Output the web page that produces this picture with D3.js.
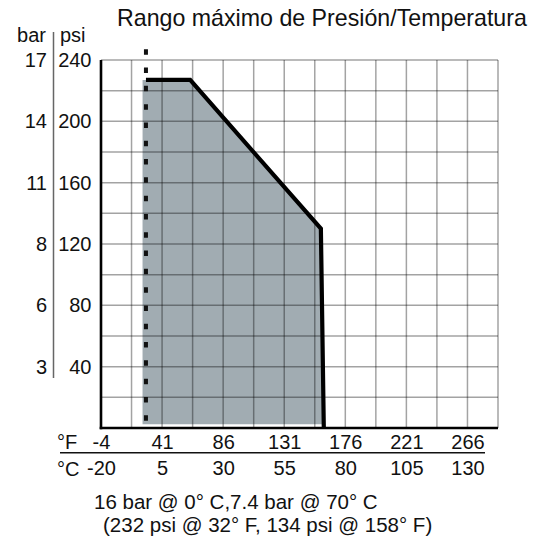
<!DOCTYPE html>
<html>
<head>
<meta charset="utf-8">
<script src="https://cdn.jsdelivr.net/npm/d3@7"></script>
<style>
  html, body { margin: 0; padding: 0; background: #fff; }
  svg text { font-family: "Liberation Sans", Arial, Helvetica, sans-serif; fill: #111; }
</style>
</head>
<body>
<svg id="chart" width="548" height="540"></svg>
<script>
// Operating envelope, temperature in °C, pressure in psi
const envelopeFill = [[-3.0, 227], [16.5, 227], [70, 130], [71.2, 2.5]];
const envelopeEdge = [[-1.6, 227], [16.5, 227], [70, 130], [71.2, 0]];
// Minimum-temperature reference line (°C, psi span)
const minTempLine = [[-1.6, 247], [-1.6, 3]];

// Tick labels
const psiTicks = [40, 80, 120, 160, 200, 240];
const barLabels = ["3", "6", "8", "11", "14", "17"];
const celsiusTicks = [-20, 5, 30, 55, 80, 105, 130];
const fahrenheitLabels = ["-4", "41", "86", "131", "176", "221", "266"];

// Grid steps
const gridTemps = d3.range(-20, 142.6, 12.5);
const gridPsi = d3.range(0, 240.1, 20);

const svg = d3.select("#chart");
const FONT = 20;

const x = d3.scaleLinear().domain([-20, 142.5]).range([101, 498]);
const y = d3.scaleLinear().domain([0, 240]).range([428, 60]);

// Title
svg.append("text")
  .attr("x", 117).attr("y", 26)
  .style("font-size", "23.2px")
  .text("Rango máximo de Presión/Temperatura");

// Filled envelope
svg.append("path")
  .datum(envelopeFill)
  .attr("fill", "#a1acb2")
  .attr("d", d3.area().x(d => x(d[0])).y1(d => y(d[1])).y0(y(2.5)));

// Grid
const grid = svg.append("g").attr("stroke", "#000").attr("stroke-opacity", 0.36).attr("stroke-width", 1.5);
grid.selectAll("line.v").data(gridTemps).join("line")
  .attr("x1", d => x(d)).attr("x2", d => x(d))
  .attr("y1", y(0)).attr("y2", y(240));
grid.selectAll("line.h").data(gridPsi).join("line")
  .attr("x1", x(-20)).attr("x2", x(142.5))
  .attr("y1", d => y(d)).attr("y2", d => y(d));

// Dotted minimum-temperature line
svg.append("path")
  .datum(minTempLine)
  .attr("fill", "none").attr("stroke", "#111").attr("stroke-width", 4)
  .attr("stroke-dasharray", "5.5,12.8")
  .attr("d", d3.line().x(d => x(d[0])).y(d => y(d[1])));

// Envelope outline
svg.append("path")
  .datum(envelopeEdge)
  .attr("fill", "none").attr("stroke", "#000").attr("stroke-width", 4.2)
  .attr("stroke-linejoin", "miter")
  .attr("d", d3.line().x(d => x(d[0])).y(d => y(d[1])));

// Main axes lines
svg.append("line").attr("x1", x(-20)).attr("x2", x(-20)).attr("y1", y(240)).attr("y2", y(0) + 1.2)
  .attr("stroke", "#000").attr("stroke-width", 2.6);
svg.append("line").attr("x1", x(-20) - 1.3).attr("x2", x(142.5)).attr("y1", y(0)).attr("y2", y(0))
  .attr("stroke", "#000").attr("stroke-width", 2.6);

// psi axis
const psiAxis = svg.append("g")
  .attr("transform", `translate(${x(-20)},0)`)
  .call(d3.axisLeft(y).tickValues(psiTicks).tickSize(0).tickPadding(9.5));
// bar axis
const barAxis = svg.append("g")
  .attr("transform", "translate(53.5,0)")
  .call(d3.axisLeft(y).tickValues(psiTicks).tickSize(0).tickPadding(6.5)
    .tickFormat((d, i) => barLabels[i]));
[psiAxis, barAxis].forEach(g => {
  g.select(".domain").remove();
  g.selectAll("text").style("font-size", FONT + "px").attr("fill", "#111");
});

// Separator between bar and psi scales
svg.append("line").attr("x1", 53.5).attr("x2", 53.5).attr("y1", 32).attr("y2", 378)
  .attr("stroke", "#666").attr("stroke-width", 1.5);
svg.append("text").attr("x", 46).attr("y", 42).attr("text-anchor", "end")
  .style("font-size", FONT + "px").text("bar");
svg.append("text").attr("x", 60).attr("y", 42)
  .style("font-size", FONT + "px").text("psi");

// Fahrenheit axis
const fAxis = svg.append("g")
  .attr("transform", `translate(0,${y(0)})`)
  .call(d3.axisBottom(x).tickValues(celsiusTicks).tickSize(0).tickPadding(6.8)
    .tickFormat((d, i) => fahrenheitLabels[i]));
// Celsius axis
const cAxis = svg.append("g")
  .attr("transform", `translate(0,${y(0)})`)
  .call(d3.axisBottom(x).tickValues(celsiusTicks).tickSize(0).tickPadding(33)
    .tickFormat(d => String(d)));
[fAxis, cAxis].forEach(g => {
  g.select(".domain").remove();
  g.selectAll("text").style("font-size", FONT + "px").attr("fill", "#111");
});

svg.append("line").attr("x1", 60).attr("x2", 485).attr("y1", 452.7).attr("y2", 452.7)
  .attr("stroke", "#111").attr("stroke-width", 1.4);
svg.append("text").attr("x", 57).attr("y", 449).style("font-size", FONT + "px").text("°F");
svg.append("text").attr("x", 57).attr("y", 475.5).style("font-size", FONT + "px").text("°C");

// Footnote
svg.append("text").attr("x", 94).attr("y", 508.5).style("font-size", "20.5px")
  .text("16 bar @ 0° C,7.4 bar @ 70° C");
svg.append("text").attr("x", 103).attr("y", 531.5).style("font-size", "20.5px")
  .text("(232 psi @ 32° F, 134 psi @ 158° F)");
</script>
</body>
</html>
